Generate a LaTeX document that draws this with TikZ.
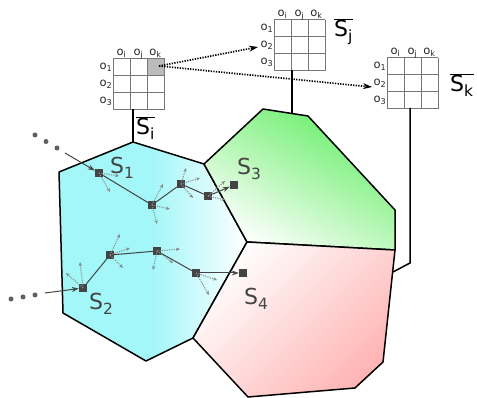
\documentclass[tikz,border=0pt]{standalone}
\usepackage{fontspec}
\setmainfont{DejaVu Sans}
\usetikzlibrary{arrows.meta}

\definecolor{ink}{HTML}{444444}
\definecolor{probegray}{HTML}{8A8A8A}
\definecolor{gridgray}{HTML}{777777}
\definecolor{cellgray}{HTML}{BBBBBB}
\definecolor{cyanfill}{HTML}{A4F7F9}
\definecolor{greenfill}{HTML}{66EE66}
\definecolor{pinkfill}{HTML}{FFB4B4}

% cyan that stays even across most of the region and fades to white at its right end
\pgfdeclarehorizontalshading{cyanfade}{100bp}{color(0bp)=(cyanfill); color(25bp)=(cyanfill);
  color(50bp)=(cyanfill); color(75bp)=(white); color(100bp)=(white)}

\tikzset{
  region/.style={draw=black, line width=1.5pt, line join=round},
  link/.style={draw=black, line width=1.5pt},
  gridline/.style={draw=gridgray, line width=1pt},
  agent/.style={rectangle, fill=ink, minimum size=8pt, inner sep=0pt},
  trace/.style={circle, fill=ink!85, minimum size=5pt, inner sep=0pt},
  trail/.style={draw=ink, line width=1pt},
  trailarrow/.style={trail, -{Stealth[length=7pt,width=5pt]}},
  probe/.style={draw=probegray, line width=1pt, dash pattern=on 1.2pt off 1.2pt,
                -{Stealth[length=4pt,width=3.5pt]}},
  share/.style={draw=black, line width=1.7pt, dash pattern=on 1.3pt off 1.3pt,
                -{Stealth[length=9pt,width=6pt]}},
  slabel/.style={text=ink, font=\fontsize{22}{26}\selectfont, inner sep=0pt, anchor=base west},
  blabel/.style={text=black, font=\fontsize{22}{26}\selectfont, inner sep=0pt, anchor=base west},
  olabel/.style={text=black!85, font=\fontsize{11.5}{13}\selectfont, inner sep=0pt},
  opgrid/.pic={
    \fill[white] (0,0) rectangle (51,51);
    \foreach \k in {0,17,34,51} {
      \draw[gridline] (\k,0) -- (\k,51);
      \draw[gridline] (0,\k) -- (51,\k);
    }
    \foreach \c [count=\n from 0] in {i,j,k}
      \node[olabel, anchor=base] (-col\n) at (8.5+17*\n,-3.5) {o\textsubscript{\c}};
    \foreach \r [count=\n from 0] in {1,2,3}
      \node[olabel, anchor=east] (-row\n) at (-0.5,8.5+17*\n) {o\textsubscript{\r}};
  }
}

\begin{document}
\begin{tikzpicture}[x=1pt, y=-1pt]
\useasboundingbox (0,0) rectangle (477,398);

% region vertices
\coordinate (vi) at (133,142);
\coordinate (p1) at (204,164);
\coordinate (c0) at (247,242);
\coordinate (p2) at (193,338);
\coordinate (vj) at (292,113.5);
\coordinate (vk) at (393,272);

% regions
\shadedraw[region, shading=cyanfade]
  (vi) -- (p1) -- (c0) -- (p2) -- (146,361) -- (63,313) -- (59,172) -- cycle;
\shadedraw[region, top color=greenfill, bottom color=white, shading angle=-30]
  (p1) -- (263,109) -- (308,116) -- (395,210) -- (395,250) -- (c0) -- cycle;
\shadedraw[region, top color=white, bottom color=pinkfill, shading angle=45]
  (c0) -- (395,250) -- (383,362) -- (355,388) -- (248,397) -- (p2) -- cycle;

% observation grids
\pic (gi) at (113,59) {opgrid};
\filldraw[fill=cellgray, draw=gridgray, line width=1pt] (147,59) rectangle (164,76);
\pic (gj) at (274,20) {opgrid};
\pic (gk) at (387,58) {opgrid};

% links from grids to regions
\coordinate (gib) at (133,109);
\coordinate (gjb) at (292,70);
\coordinate (gkb) at (410,108);
\coordinate (kb) at (410,263);
\draw[link] (gib) -- (vi);
\draw[link] (gjb) -- (vj);
\draw[link] (gkb) -- (kb) -- (vk);

% shared observation arrows
\coordinate (src) at (159,66);
\coordinate (dstj) at (258,47);
\coordinate (dstk) at (372,87);
\draw[share] (src) -- (dstj);
\draw[share] (src) -- (dstk);

% region labels
\node[blabel] (li) at (136,135) {$\overline{\hbox{S\textsubscript{i}}}$};
\node[blabel] (lj) at (334,37) {$\overline{\hbox{S\textsubscript{j}}}$};
\node[blabel] (lk) at (450,92) {$\overline{\hbox{S\textsubscript{k}}}$};
\node[slabel] (s1) at (110,174) {S\textsubscript{1}};
\node[slabel] (s3) at (237,175) {S\textsubscript{3}};
\node[slabel] (s2) at (89,310) {S\textsubscript{2}};
\node[slabel] (s4) at (244,305) {S\textsubscript{4}};

% first trajectory
\node[trace] (t1) at (35,135) {};
\node[trace] (t2) at (46,141.5) {};
\node[trace] (t3) at (57,148) {};
\coordinate (in1) at (65,153);
\node[agent] (a1) at (99,173) {};
\node[agent] (a2) at (152,205) {};
\node[agent] (a3) at (181,184) {};
\node[agent] (a4) at (208,196) {};
\node[agent] (a5) at (234,185) {};
\draw[trailarrow] (in1) -- (a1);
\draw[trail] (a1) -- (a2) -- (a3) -- (a4);
\draw[trailarrow] (a4) -- (a5);
\draw[probe] (a1.center) -- ++(20,3);
\draw[probe] (a1.center) -- ++(11,19);
\draw[probe] (a2.center) -- ++(11,-21);
\draw[probe] (a2.center) -- ++(18,4);
\draw[probe] (a2.center) -- ++(5,19);
\draw[probe] (a3.center) -- ++(5,-16);
\draw[probe] (a3.center) -- ++(19,-6);
\draw[probe] (a3.center) -- ++(12,14);
\draw[probe] (a4.center) -- ++(17,-15);
\draw[probe] (a4.center) -- ++(17,4);

% second trajectory
\node[trace] (u1) at (11,299) {};
\node[trace] (u2) at (23,297) {};
\node[trace] (u3) at (35,295) {};
\coordinate (in2) at (45,293);
\node[agent] (b1) at (83,288) {};
\node[agent] (b2) at (110,255) {};
\node[agent] (b3) at (157,251) {};
\node[agent] (b4) at (196,273) {};
\node[agent] (b5) at (243,273) {};
\draw[trailarrow] (in2) -- (b1);
\draw[trail] (b1) -- (b2) -- (b3) -- (b4);
\draw[trailarrow] (b4) -- (b5);
\draw[probe] (b1.center) -- ++(-3,-26);
\draw[probe] (b1.center) -- ++(-17,-15);
\draw[probe] (b2.center) -- ++(10,-21);
\draw[probe] (b2.center) -- ++(20,-7);
\draw[probe] (b2.center) -- ++(13,13);
\draw[probe] (b3.center) -- ++(23,-2);
\draw[probe] (b3.center) -- ++(-4,19);
\draw[probe] (b3.center) -- ++(16,12);
\draw[probe] (b4.center) -- ++(21,7);
\draw[probe] (b4.center) -- ++(13,22);
\end{tikzpicture}
\end{document}
